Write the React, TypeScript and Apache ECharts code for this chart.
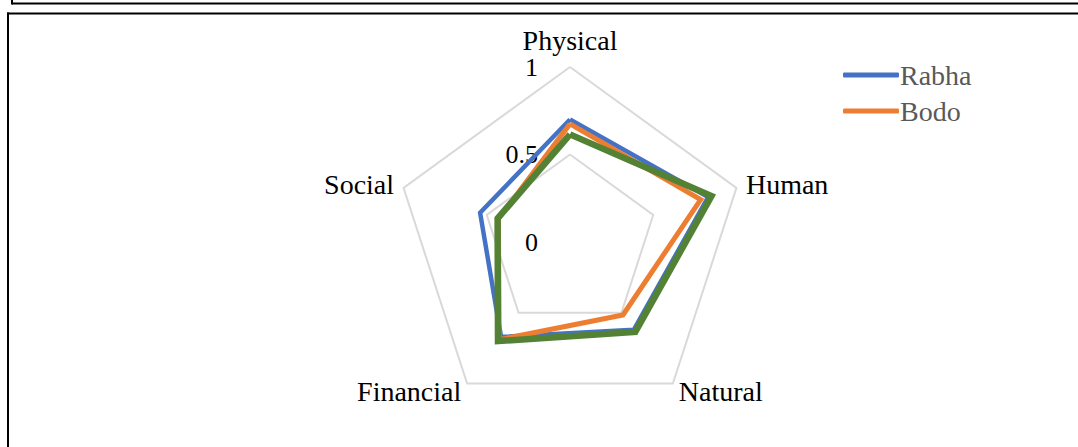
import React, { useEffect, useRef } from "react";
import * as echarts from "echarts";

// Indicators listed counter-clockwise from the top (ECharts radar order)
const categories = ["Physical", "Social", "Financial", "Natural", "Human"];
const rabha = [0.7, 0.54, 0.67, 0.62, 0.83];
const bodo = [0.675, 0.43, 0.69, 0.515, 0.785];
const third = [0.615, 0.435, 0.7, 0.635, 0.85];
const seriesNames = ["Rabha", "Bodo", "Series3"];
const legendNames = ["Rabha", "Bodo"];
const axisMin = 0;
const axisMax = 1;
const splitCount = 2;

const FONT = "'Liberation Serif', 'Times New Roman', serif";

export default function App() {
  const ref = useRef<HTMLDivElement>(null);
  useEffect(() => {
    if (!ref.current) return;
    const chart = echarts.init(ref.current, undefined, { renderer: "svg" });
    const colors = ["#4472C4", "#ED7D31", "#548235"];
    const widths = [4.5, 5, 6.5];
    const values = [rabha, bodo, third];
    chart.setOption({
      animation: false,
      backgroundColor: "#ffffff",
      legend: {
        data: legendNames,
        orient: "vertical",
        left: 838,
        top: 56,
        icon: "roundRect",
        itemWidth: 56,
        itemHeight: 5,
        itemGap: 8,
        textStyle: { fontFamily: FONT, fontSize: 28, color: "#595959", lineHeight: 28, padding: [0, 0, 0, -4] },
      },
      radar: {
        center: [570, 242],
        radius: 175,
        startAngle: 90,
        min: axisMin,
        max: axisMax,
        splitNumber: splitCount,
        shape: "polygon",
        axisName: { color: "#000000", fontFamily: FONT, fontSize: 28, lineHeight: 22 },
        nameGap: 10,
        axisLine: { show: false },
        axisTick: { show: false },
        axisLabel: { show: false },
        splitLine: { lineStyle: { color: "#D9D9D9", width: 2 } },
        splitArea: { show: false },
        indicator: categories.map((name, i) => ({
          name,
          min: axisMin,
          max: axisMax,
          ...(i === 0
            ? {
                nameGap: 15,
                axisLabel: {
                  show: true,
                  color: "#000000",
                  fontFamily: FONT,
                  fontSize: 26,
                  lineHeight: 20,
                  margin: 32,
                },
              }
            : {}),
        })),
      },
      series: [
        {
          type: "radar",
          symbol: "none",
          data: values.map((v, i) => ({
            name: seriesNames[i],
            value: v,
            itemStyle: { color: colors[i] },
            lineStyle: { color: colors[i], width: widths[i], join: "miter" },
          })),
        },
      ],
      graphic: [
        { type: "line", shape: { x1: 12, y1: 3.5, x2: 1078, y2: 3.5 }, style: { stroke: "#000", lineWidth: 2 } },
        { type: "line", shape: { x1: 12, y1: 0, x2: 12, y2: 4.5 }, style: { stroke: "#000", lineWidth: 2 } },
        { type: "line", shape: { x1: 7, y1: 13.5, x2: 1078, y2: 13.5 }, style: { stroke: "#000", lineWidth: 2 } },
        { type: "line", shape: { x1: 8, y1: 12.5, x2: 8, y2: 447 }, style: { stroke: "#000", lineWidth: 2 } },
      ],
    });
    return () => chart.dispose();
  }, []);
  return (
    <div
      ref={ref}
      style={{ position: "absolute", left: 0, top: 0, width: 1078, height: 447 }}
    />
  );
}
